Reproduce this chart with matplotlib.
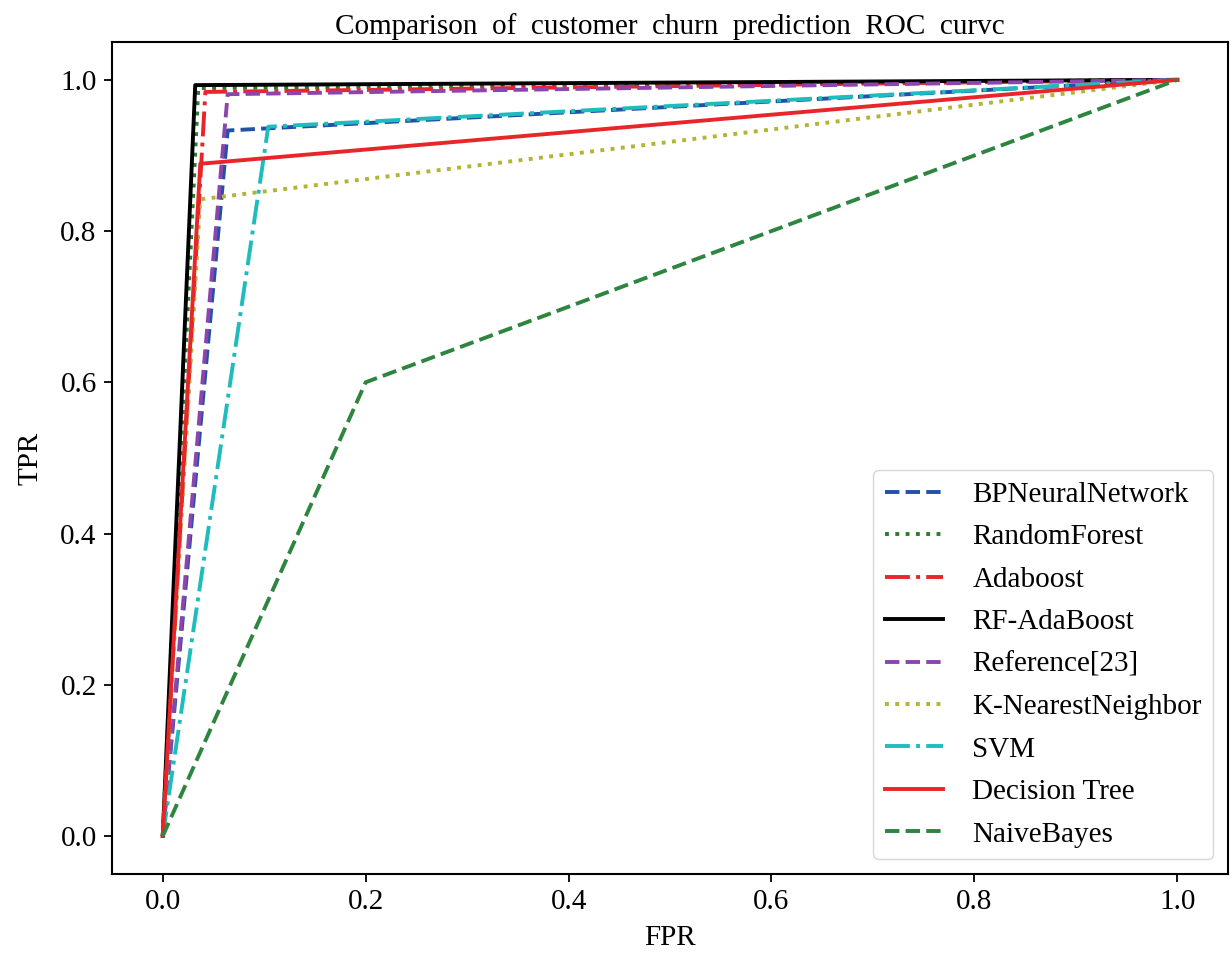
import matplotlib.pyplot as plt

plt.rcParams['font.family'] = ['Liberation Serif', 'DejaVu Serif']

# ROC points (FPR, TPR)
names = ['BPNeuralNetwork', 'RandomForest', 'Adaboost', 'RF-AdaBoost', 'Reference[23]',
         'K-NearestNeighbor', 'SVM', 'Decision Tree', 'NaiveBayes']
fpr = [
    [0.0, 0.064, 1.0],
    [0.0, 0.035, 1.0],
    [0.0, 0.042, 1.0],
    [0.0, 0.032, 1.0],
    [0.0, 0.064, 1.0],
    [0.0, 0.037, 1.0],
    [0.0, 0.104, 1.0],
    [0.0, 0.037, 1.0],
    [0.0, 0.200, 1.0],
]
tpr = [
    [0.0, 0.933, 1.0],
    [0.0, 0.989, 1.0],
    [0.0, 0.984, 1.0],
    [0.0, 0.993, 1.0],
    [0.0, 0.981, 1.0],
    [0.0, 0.842, 1.0],
    [0.0, 0.938, 1.0],
    [0.0, 0.889, 1.0],
    [0.0, 0.600, 1.0],
]
colors = ['#2251a8', '#2a7d2e', '#e8262a', 'black', '#8e44ad',
          '#b3b334', '#1fbcbc', '#e8262a', '#2e8540']
styles = ['--', ':', '-.', '-', '--', ':', '-.', '-', '--']

fig, ax = plt.subplots(figsize=(12.31, 9.55), dpi=100)
for i in range(len(names)):
    ax.plot(fpr[i], tpr[i], linestyle=styles[i], color=colors[i], lw=2.8, label=names[i])

ax.set_xlim(-0.05, 1.05)
ax.set_ylim(-0.05, 1.05)
ax.set_xticks([0.0, 0.2, 0.4, 0.6, 0.8, 1.0])
ax.set_yticks([0.0, 0.2, 0.4, 0.6, 0.8, 1.0])
ax.tick_params(labelsize=21, length=6, width=1.3, pad=5)
for s in ax.spines.values():
    s.set_linewidth(1.5)
ax.set_xlabel('FPR', fontsize=21, labelpad=7)
ax.set_ylabel('TPR', fontsize=21, labelpad=12)
ax.set_title('Comparison  of  customer  churn  prediction  ROC  curvc', fontsize=21, pad=6)
ax.legend(loc='lower right', fontsize=21, handlelength=2.0, handletextpad=1.0,
          labelspacing=0.55, borderaxespad=0.5)

plt.subplots_adjust(left=0.091, right=0.9976, top=0.956, bottom=0.085)
plt.savefig('out.png')
